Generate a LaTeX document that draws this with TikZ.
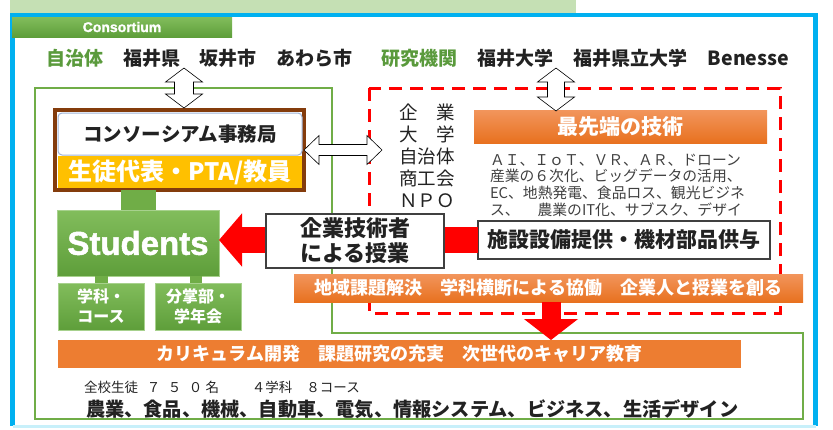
\documentclass[tikz,border=0pt]{standalone}
\usepackage{fontspec}
\setmainfont{Noto Sans CJK JP}
\newfontfamily\heavy{Liberation Sans}[BoldFeatures={FakeBold=1.5}]
\usetikzlibrary{arrows.meta,calc}
\definecolor{bandgreen}{HTML}{C5E0B4}
\definecolor{cyanline}{HTML}{00B0F0}
\definecolor{paleblue}{HTML}{C8F0FA}
\definecolor{framegreen}{HTML}{70AD47}
\definecolor{textgreen}{HTML}{5A9A3C}
\definecolor{gtop}{HTML}{82BD5C}
\definecolor{gbot}{HTML}{5E9E3A}
\definecolor{brownline}{HTML}{843C0C}
\definecolor{gold}{HTML}{FFC000}
\definecolor{otop}{HTML}{F2955C}
\definecolor{obot}{HTML}{E8711F}
\definecolor{oflat}{HTML}{ED7D31}
\definecolor{darkgray}{HTML}{404040}
\definecolor{txt}{HTML}{222222}
\definecolor{lightframe}{HTML}{9FB4D8}
\newcommand\mysz[2]{\fontsize{#1}{#2}\selectfont}
\begin{document}
\begin{tikzpicture}[x=1pt,y=-1pt,
  every node/.style={inner sep=0pt,outer sep=0pt},
  toplabel/.style={font=\mysz{19}{22}\bfseries,text=txt},
  greentab/.style={top color=gtop,bottom color=gbot,draw=none},
  greenbox/.style={top color=gtop,bottom color=gbot,draw=gtop!70!white,line width=0.6pt},
  orangebox/.style={top color=otop,bottom color=obot,draw=none},
  plainbox/.style={fill=white,draw=darkgray,line width=2pt},
  dblarrow/.style={fill=white,draw=black,line width=0.6pt,line join=miter},
  fatred/.style={draw=red,line cap=butt},
  greenlink/.style={draw=framegreen,line cap=butt}
]
\useasboundingbox (0,0) rectangle (833,429);
% top band and blue frame
\fill[bandgreen] (10,0) rectangle (576,13);
\draw[cyanline,line width=4.5pt] (12.5,426) -- (12.5,15) -- (815.5,15) -- (815.5,426);
\draw[paleblue,line width=3pt] (12.5,426.5) -- (815.5,426.5);
% consortium tab
\node[greentab,minimum width=220pt,minimum height=20pt,font=\heavy\bfseries\mysz{14}{16},text=white] (tab) at (122,27) {Consortium};
% top row
\node[toplabel,text=textgreen] (jichitai) at (74.5,58) {自治体};
\node[toplabel] (fukuiken) at (151.5,58) {福井県};
\node[toplabel] (sakai) at (227.5,58) {坂井市};
\node[toplabel] (awara) at (314,58) {あわら市};
\node[toplabel,text=textgreen] (kenkyu) at (419,58) {研究機関};
\node[toplabel] (fukuidai) at (515.5,58) {福井大学};
\node[toplabel] (kenritsu) at (630,58) {福井県立大学};
\node[toplabel,font=\mysz{19.5}{22}\bfseries] (benesse) at (748.5,58) {Benesse};
% green frame
\draw[framegreen,line width=2.8pt] (35,88) -- (332,88) -- (332,333) -- (803,333) -- (803,419) -- (35,419) -- cycle;
% red dashed frame
\draw[red,line width=3pt,dash pattern=on 13pt off 8pt] (369,88) rectangle (780,313);
% office box
\node[draw=brownline,line width=4pt,fill=white,minimum width=249pt,minimum height=80pt] (office) at (179.5,150) {};
\node[draw=lightframe,line width=1pt,fill=white,rounded corners=4pt,minimum width=244pt,minimum height=42pt,font=\mysz{19.5}{22}\bfseries,text=txt] (jimu) at (180,134) {コンソーシアム事務局};
\node[fill=gold,minimum width=244pt,minimum height=32pt,font=\mysz{24}{26}\bfseries,text=white] (rep) at (180,172) {生徒代表・PTA/教員};
% students
\node[greenbox,minimum width=162pt,minimum height=66pt,font=\heavy\bfseries\mysz{33}{36},text=white] (stu) at (138,243) {Students};
\draw[greenlink,line width=35pt] (office.south -| stu.north) -- (stu.north);
\node[greenbox,minimum width=86pt,minimum height=47pt,align=center,font=\mysz{16}{20}\bfseries,text=white] (ka) at (101,306.5) {学科・\\コース};
\node[greenbox,minimum width=86pt,minimum height=47pt,align=center,font=\mysz{16}{20}\bfseries,text=white] (bun) at (198,306.5) {分掌部・\\学年会};
\draw[greenlink,line width=13pt] (stu.south -| ka.north) -- (ka.north);
\draw[greenlink,line width=12pt] ($(stu.south -| bun.north)+(-2,0)$) -- ($(bun.north)+(-2,0)$);
% right side boxes
\node[orangebox,minimum width=293pt,minimum height=33pt,font=\mysz{21}{24}\bfseries,text=white] (sentan) at (620.5,126.5) {最先端の技術};
\node[anchor=west,align=left,font=\mysz{14.8}{16.7},text=darkgray] (tech) at (490,185) {ＡＩ、ＩｏＴ、ＶＲ、ＡＲ、ドローン\\産業の６次化、ビッグデータの活用、\\EC、地熱発電、食品ロス、観光ビジネ\\ス、\hspace{18pt}農業のIT化、サブスク、デザイ};
\node[align=center,font=\mysz{18.5}{22},text=txt] (members) at (427,156) {企　業\\大　学\\自治体\\商工会\\ＮＰＯ};
\node[plainbox,minimum width=292pt,minimum height=38pt,font=\mysz{21}{24}\bfseries,text=txt] (fac) at (624,240) {施設設備提供・機材部品供与};
% red arrow to students
\draw[fatred,line width=26pt,-{Triangle[length=23pt,width=52pt]}] (fac.west) -- (fac.west -| stu.east);
\node[plainbox,minimum width=178pt,minimum height=54pt,align=center,font=\mysz{22}{25}\bfseries,text=txt] (lesson) at (355,241) {企業技術者\\による授業};
% orange bars
\node[orangebox,minimum width=509pt,minimum height=28pt,font=\mysz{18}{20}\bfseries,text=white] (bar1) at (548.5,288) {地域課題解決　学科横断による協働　企業人と授業を創る};
\coordinate (dtip) at (551,340);
\draw[fatred,line width=19pt,-{Triangle[length=21pt,width=53pt]}] (bar1.south -| dtip) -- (dtip);
\node[fill=oflat,minimum width=683pt,minimum height=28pt,font=\mysz{18}{20}\bfseries,text=white] (bar2) at (399.5,354) {カリキュラム開発　課題研究の充実　次世代のキャリア教育};
% bottom text
\node[anchor=west,font=\mysz{13.5}{15},text=txt] (count) at (84,387) {全校生徒\hspace{9pt}７\hspace{7.5pt}５\hspace{7.5pt}０\hspace{3pt}名\hspace{33pt}４学科\hspace{14pt}８コース};
\node[anchor=west,font=\mysz{19.2}{21}\bfseries,text=txt] (courses) at (86,409) {農業、食品、機械、自動車、電気、情報システム、ビジネス、生活デザイン};
% double arrows
\coordinate (ha) at (office.east);
\coordinate (hb) at (382,150);
\draw[dblarrow] (ha) -- ++(15,-14.5) -- ++(0,9) -- ($(hb)+(-15,-5.5)$) -- ++(0,-9) -- (hb) -- ++(-15,14.5) -- ++(0,-9) -- ($(ha)+(15,5.5)$) -- ++(0,9) -- cycle;
\coordinate (va) at (184,68);
\coordinate (vb) at (184,108);
\draw[dblarrow] (va) -- ++(18.5,14) -- ++(-9,0) -- ($(vb)+(9.5,-14)$) -- ++(9,0) -- (vb) -- ++(-18.5,-14) -- ++(9,0) -- ($(va)+(-9.5,14)$) -- ++(-9,0) -- cycle;
\coordinate (wa) at (556,68);
\coordinate (wb) at (556,111);
\draw[dblarrow] (wa) -- ++(18.5,14) -- ++(-10,0) -- ($(wb)+(8.5,-14)$) -- ++(10,0) -- (wb) -- ++(-18.5,-14) -- ++(10,0) -- ($(wa)+(-8.5,14)$) -- ++(-10,0) -- cycle;
\end{tikzpicture}
\end{document}
